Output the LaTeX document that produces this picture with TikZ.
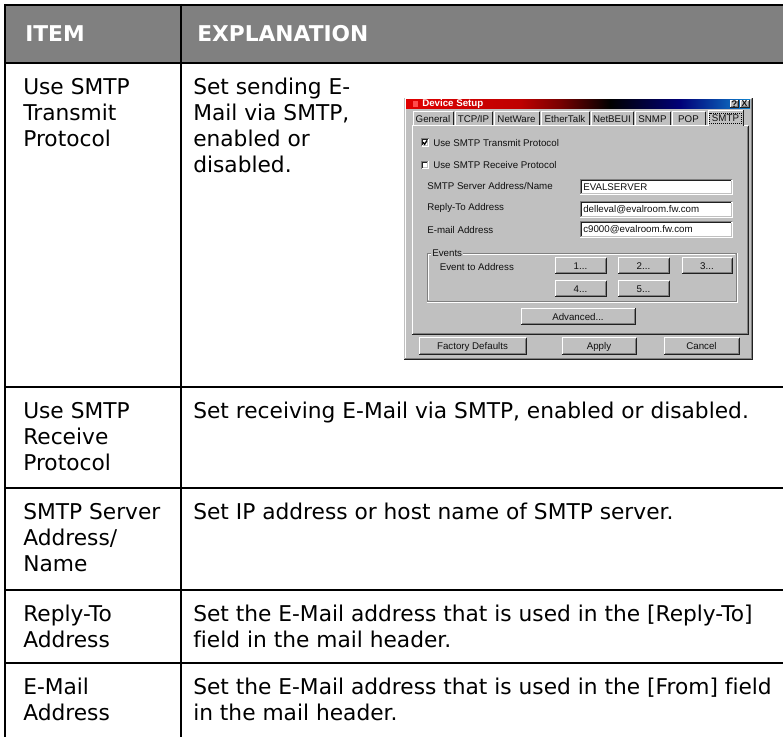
\documentclass[tikz,border=0pt]{standalone}
\usepackage{fontspec}
\setmainfont{DejaVu Sans}[Ligatures=CommonOff]
\newfontfamily\dlgfont{Liberation Sans}
\usetikzlibrary{calc}
\definecolor{hdrgray}{HTML}{808080}
\definecolor{face}{HTML}{C0C0C0}
\definecolor{shadow}{HTML}{808080}
\definecolor{dkshadow}{HTML}{202020}
\definecolor{tbA}{HTML}{E00000}
\definecolor{tbB}{HTML}{780000}
\definecolor{tbC}{HTML}{000078}
\definecolor{tbD}{HTML}{1084D0}
\definecolor{dlgtext}{HTML}{101010}
\newcommand{\dlgRaised}[4]{%
  \fill[face] (#1,#2) rectangle (#3,#4);
  \draw[white, line width=0.75pt] (#1,#4) -- (#1,#2) -- (#3,#2);
  \draw[dkshadow, line width=0.75pt] (#1,#4) -- (#3,#4) -- (#3,#2);
  \draw[shadow, line width=0.75pt] (#1+1,#4-1) -- (#3-1,#4-1) -- (#3-1,#2+1);}
\newcommand{\dlgButton}[6]{%
  \dlgRaised{#2}{#3}{#4}{#5}
  \node[dlg] (#1) at ({(#2+#4)/2},{(#3+#5)/2}) {#6};}
\newcommand{\dlgSunken}[4]{%
  \fill[white] (#1,#2) rectangle (#3,#4);
  \draw[shadow, line width=0.75pt] (#1,#4) -- (#1,#2) -- (#3,#2);
  \draw[dkshadow, line width=0.75pt] (#1+1,#4-1) -- (#1+1,#2+1) -- (#3-1,#2+1);
  \draw[face, line width=0.75pt] (#1+1,#4-1) -- (#3-1,#4-1) -- (#3-1,#2+1);
  \draw[white, line width=0.75pt] (#1,#4) -- (#3,#4) -- (#3,#2);}
\newcommand{\dlgField}[6]{%
  \dlgSunken{#2}{#3}{#4}{#5}
  \node[dlg, anchor=west] (#1) at (#2+3,{(#3+#5)/2}) {#6};}
\newcommand{\dlgTab}[4]{%
  \fill[face] (#2,127) -- (#2,112) -- (#3,112) -- (#3,127) -- cycle;
  \draw[white, line width=0.75pt] (#2,127) -- (#2,112) -- (#3,112);
  \draw[dkshadow, line width=0.75pt] (#3,112) -- (#3,126);
  \node[dlg] (#1) at ({(#2+#3)/2},119.5) {#4};}
\begin{document}
\begin{tikzpicture}[x=0.75pt,y=-0.75pt,
  tline/.style={line width=1.65pt, draw=black},
  cell/.style={anchor=base west, inner sep=0pt, font=\fontsize{16.3}{19.5}\selectfont},
  hdr/.style={anchor=base west, inner sep=0pt, text=white, font=\fontsize{16.3}{19.5}\selectfont\bfseries},
  dlg/.style={inner sep=0pt, text=dlgtext, font=\dlgfont\fontsize{7.3}{8.5}\selectfont}]
\useasboundingbox (0,0) rectangle (783,737);
\fill[white] (0,0) rectangle (783,737);

% ---------- table ----------
\fill[hdrgray] (5,5) rectangle (790,63);
\foreach \yy in {5,63,387,488,590,663}
  \draw[tline] (5,\yy) -- (790,\yy);
\draw[tline] (5,4) -- (5,745);
\draw[tline] (181,4) -- (181,745);

\node[hdr] (hItem) at (25,42) {ITEM};
\node[hdr] (hExpl) at (197,42) {EXPLANATION};

\node[cell] (i1) at (23,95) {\parbox[t]{150pt}{Use SMTP\\Transmit\\Protocol}};
\node[cell] (e1) at (193,95) {\parbox[t]{160pt}{Set sending E-\\Mail via SMTP,\\enabled or\\disabled.}};

\node[cell] (i2) at (23,419) {\parbox[t]{150pt}{Use SMTP\\Receive\\Protocol}};
\node[cell] (e2) at (193,419) {Set receiving E-Mail via SMTP, enabled or disabled.};

\node[cell] (i3) at (23,520) {\parbox[t]{150pt}{SMTP Server\\Address/\\Name}};
\node[cell] (e3) at (193,520) {Set IP address or host name of SMTP server.};

\node[cell] (i4) at (23,622) {\parbox[t]{150pt}{Reply-To\\Address}};
\node[cell] (e4) at (193,622) {\parbox[t]{450pt}{Set the E-Mail address that is used in the [Reply-To]\\field in the mail header.}};

\node[cell] (i5) at (23,695) {\parbox[t]{150pt}{E-Mail\\Address}};
\node[cell] (e5) at (193,695) {\parbox[t]{450pt}{Set the E-Mail address that is used in the [From] field\\in the mail header.}};

% ---------- dialog screenshot ----------
\fill[face] (404,98) rectangle (752,360);
\draw[white, line width=0.75pt] (405,359) -- (405,99) -- (751,99);
\draw[dkshadow, line width=0.75pt] (404,360) -- (752,360) -- (752,98);
\draw[shadow, line width=0.75pt] (405,359) -- (751,359) -- (751,99);

% title bar
\shade[left color=tbA, right color=tbA!85!black] (406,99.5) rectangle (520,109);
\shade[left color=tbA!85!black, right color=tbB] (520,99.5) rectangle (560,109);
\shade[left color=tbB, right color=black] (560,99.5) rectangle (610,109);
\shade[left color=black, right color=tbC] (610,99.5) rectangle (680,109);
\shade[left color=tbC, right color=tbD] (680,99.5) rectangle (750,109);
\fill[red!70!white] (413,101.5) rectangle (418,107);
\node[dlg, anchor=west, text=white, font=\dlgfont\bfseries\fontsize{7.3}{8}\selectfont] (title) at (422,104.3) {Device Setup};
\dlgButton{bHelp}{730}{100.5}{738.5}{107.5}{\textbf{?}}
\dlgButton{bClose}{740}{100.5}{749}{107.5}{\textbf{\fontsize{6.5}{7}\selectfont X}}

% tabs
\dlgTab{tGen}{413}{453}{General}
\dlgTab{tTcp}{455}{492}{TCP/IP}
\dlgTab{tNet}{494}{539}{NetWare}
\dlgTab{tEth}{541}{589}{EtherTalk}
\dlgTab{tBeu}{591}{633}{NetBEUI}
\dlgTab{tSnm}{635}{670}{SNMP}
\dlgTab{tPop}{672}{705}{POP}

% panel
\fill[face] (412,126) rectangle (748,335);
\draw[white, line width=0.75pt] (412,335) -- (412,126) -- (708,126);
\draw[white, line width=0.75pt] (743.5,126) -- (748,126);
\draw[dkshadow, line width=0.75pt] (412,335) -- (748,335) -- (748,126);
\draw[shadow, line width=0.75pt] (413,334) -- (747,334) -- (747,127);

% selected tab
\fill[face] (708,126.5) -- (708,110.5) -- (743.5,110.5) -- (743.5,126.5) -- cycle;
\draw[white, line width=0.75pt] (708,126.5) -- (708,110.5) -- (743.5,110.5);
\draw[dkshadow, line width=0.75pt] (743.5,110.5) -- (743.5,126);
\node[dlg] (tSmtp) at (725.5,118.5) {SMTP};
\draw[black, densely dotted, line width=0.5pt] ($(tSmtp.south west)+(-2,1.5)$) rectangle ($(tSmtp.north east)+(2,-1.5)$);

% checkboxes
\dlgSunken{421.5}{139}{428.5}{146.5}
\draw[black, line width=1pt] (423,142.3) -- (424.6,144.3) -- (427,140.5);
\node[dlg, anchor=west] (cTx) at (433,142.8) {Use SMTP Transmit Protocol};
\dlgSunken{421.5}{161.5}{428.5}{169}
\node[dlg, anchor=west] (cRx) at (433,164.8) {Use SMTP Receive Protocol};

% labels and fields
\node[dlg, anchor=west] (lSrv) at (427,186) {SMTP Server Address/Name};
\dlgField{fSrv}{580}{180}{732}{195}{EVALSERVER}
\node[dlg, anchor=west] (lRep) at (427,207.5) {Reply-To Address};
\dlgField{fRep}{580}{202}{732}{217.5}{delleval@evalroom.fw.com}
\node[dlg, anchor=west] (lMail) at (427,230) {E-mail Address};
\dlgField{fMail}{580}{222}{732}{238}{c9000@evalroom.fw.com}

% events group
\draw[shadow, line width=0.75pt] (427,253.5) rectangle (736,301.5);
\draw[white, line width=0.75pt] (428,254.5) -- (735,254.5);
\draw[white, line width=0.75pt] (737,253) -- (737,302.5) -- (427,302.5);
\draw[white, line width=0.75pt] (428,254.5) -- (428,300.5);
\node[dlg, anchor=west, fill=face, inner xsep=0.8pt, inner ysep=0.5pt] (gEv) at (431,253.5) {Events};
\node[dlg, anchor=west] (lEv) at (439.5,267) {Event to Address};
\dlgButton{b1}{555}{258}{606}{274}{1...}
\dlgButton{b2}{618}{258}{669}{274}{2...}
\dlgButton{b3}{682}{258}{732}{274}{3...}
\dlgButton{b4}{555}{281}{606}{297}{4...}
\dlgButton{b5}{618}{281}{669}{297}{5...}

\dlgButton{bAdv}{521}{308.5}{635}{325}{Advanced...}
\dlgButton{bFac}{419}{338}{526}{355}{Factory Defaults}
\dlgButton{bApp}{562}{338}{636}{355}{Apply}
\dlgButton{bCan}{664}{338}{739}{355}{Cancel}
\end{tikzpicture}
\end{document}
